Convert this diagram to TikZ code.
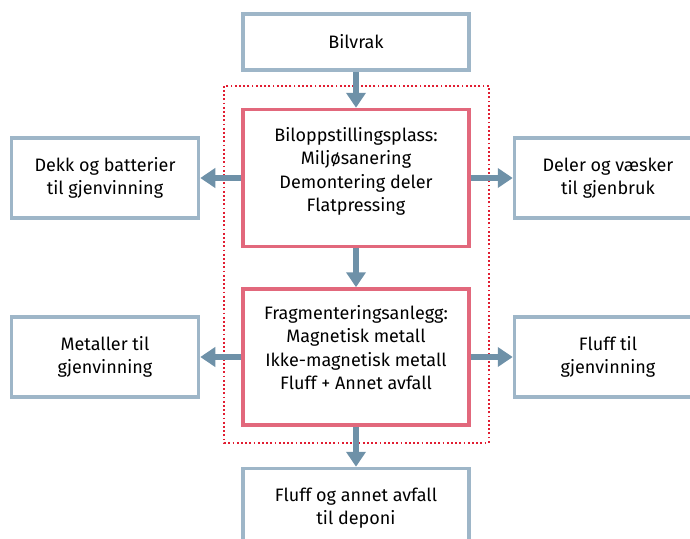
\documentclass[tikz,border=0pt]{standalone}
\usepackage{fontspec}
\setmainfont{Fira Sans}
\usetikzlibrary{positioning,arrows.meta,calc}
\definecolor{boxblue}{RGB}{158,182,200}
\definecolor{boxred}{RGB}{226,104,124}
\definecolor{arrowblue}{RGB}{110,145,168}
\definecolor{dotred}{RGB}{225,30,50}

\begin{document}
\begin{tikzpicture}[x=1pt, y=1pt, >={Triangle[length=15pt,width=19pt]},
  font=\fontsize{18}{23.5}\selectfont]
  \useasboundingbox (0,0) rectangle (690,-538);
  % main column
  \node[draw=boxblue, line width=3.5pt, fill=white, minimum width=226pt, minimum height=56pt, align=center] (car) at (356,-42) {Bilvrak};
  \node[draw=boxred, line width=3.5pt, fill=white, below=36pt of car, minimum width=226pt, minimum height=137pt, align=center] (yard) {Biloppstillingsplass:\\Miljøsanering\\Demontering deler\\Flatpressing\\[-6pt]\mbox{}};
  \node[draw=boxred, line width=3.5pt, fill=white, below=39pt of yard, minimum width=226pt, minimum height=136pt, align=center] (shred) {Fragmenteringsanlegg:\\Magnetisk metall\\Ikke-magnetisk metall\\Fluff + Annet avfall\\[-4pt]\mbox{}};
  \node[draw=boxblue, line width=3.5pt, fill=white, below=40pt of shred, minimum width=226pt, minimum height=79pt, align=center] (dump) {Fluff og annet avfall\\til deponi};
  % side boxes
  \node[draw=boxblue, line width=3.5pt, fill=white, left=41pt of yard, minimum width=187pt, minimum height=80pt, align=center] (tires) {Dekk og batterier\\til gjenvinning};
  \node[draw=boxblue, line width=3.5pt, fill=white, right=42pt of yard, minimum width=187pt, minimum height=80pt, align=center] (parts) {Deler og væsker\\til gjenbruk};
  \node[draw=boxblue, line width=3.5pt, fill=white, left=41pt of shred, minimum width=187pt, minimum height=80pt, align=center] (metal) {Metaller til\\gjenvinning};
  \node[draw=boxblue, line width=3.5pt, fill=white, right=42pt of shred, minimum width=187pt, minimum height=80pt, align=center] (fluff) {Fluff til\\gjenvinning};
  % dotted frame round the plant
  \draw[dotred, line width=1.8pt, dash pattern=on 1.8pt off 2.4pt] ($(yard.north west)+(-17,22)$) rectangle ($(shred.south east)+(18,-16)$);
  \draw[->, arrowblue, line width=6pt] (car) -- (yard);
  \draw[->, arrowblue, line width=6pt] (yard) -- (shred);
  \draw[->, arrowblue, line width=6pt] (shred) -- (dump);
  \draw[->, arrowblue, line width=6pt] (yard) -- (tires);
  \draw[->, arrowblue, line width=6pt] (yard) -- (parts);
  \draw[->, arrowblue, line width=6pt] (shred) -- (metal);
  \draw[->, arrowblue, line width=6pt] (shred) -- (fluff);
\end{tikzpicture}
\end{document}
